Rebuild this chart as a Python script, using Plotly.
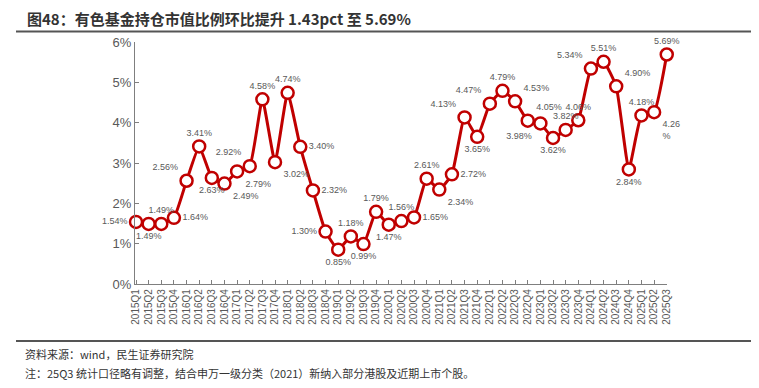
import plotly.graph_objects as go

quarters = ["2015Q1","2015Q2","2015Q3","2015Q4","2016Q1","2016Q2","2016Q3","2016Q4",
            "2017Q1","2017Q2","2017Q3","2017Q4","2018Q1","2018Q2","2018Q3","2018Q4",
            "2019Q1","2019Q2","2019Q3","2019Q4","2020Q1","2020Q2","2020Q3","2020Q4",
            "2021Q1","2021Q2","2021Q3","2021Q4","2022Q1","2022Q2","2022Q3","2022Q4",
            "2023Q1","2023Q2","2023Q3","2023Q4","2024Q1","2024Q2","2024Q3","2024Q4",
            "2025Q1","2025Q2","2025Q3"]
values = [1.54,1.49,1.49,1.64,2.56,3.41,2.63,2.49,
          2.79,2.92,4.58,3.02,4.74,3.40,2.32,1.30,
          0.85,1.18,0.99,1.79,1.47,1.56,1.65,2.61,
          2.34,2.72,4.13,3.65,4.47,4.79,4.53,4.05,
          3.98,3.62,3.82,4.06,5.34,5.51,4.90,2.84,
          4.18,4.26,5.69]
label_pos = ["middle left","bottom center","top center","middle right","top left","top center","bottom center","bottom right",
             "bottom right","top left","top center","bottom right","top center","middle right","middle right","middle left",
             "bottom center","top center","bottom center","top center","bottom center","top center","middle right","top center",
             "bottom right","middle right","top left","bottom center","top left","top center","top right","top right",
             "bottom left","bottom center","top center","top center","top left","top center","top right","bottom center",
             "top center","bottom right","top center"]
labels = [f"{v:.2f}%" for v in values]
labels[41] = "4.26<br>%"

title = "图48：有色基金持仓市值比例环比提升 1.43pct 至 5.69%"
source = "资料来源：wind，民生证券研究院"
note = "注：25Q3 统计口径略有调整，结合申万一级分类（2021）新纳入部分港股及近期上市个股。"

# page body has an 8px margin: shift everything by that
OX, OY = 8, 8
W, H = 759 - 2 * OX, 388 - 2 * OY
PL, PR, PT, PB = 135, 667, 42, 284  # plot area in reference pixels
L, R, T, B = PL - OX, W - (PR - OX), PT - OY, H - (PB - OY)
pw = W - L - R
ph = H - T - B

def px_x(p):
    return (p - OX - L) / pw

def px_y(p):
    return (H - B - (p - OY)) / ph

red = "#C00000"
gray = "#595959"

fig = go.Figure()
fig.add_trace(go.Scatter(
    x=list(range(len(quarters))), y=values,
    mode="lines+markers+text",
    line=dict(color=red, width=3, shape="spline", smoothing=0.4),
    marker=dict(symbol="circle", size=12, color="white", line=dict(color=red, width=2.5)),
    text=labels, textposition=label_pos,
    textfont=dict(family="Liberation Sans, Arial", size=9, color=gray),
    cliponaxis=False, hoverinfo="skip",
))

fig.update_layout(
    width=W, height=H,
    margin=dict(l=L, r=R, t=T, b=B, pad=0),
    paper_bgcolor="white", plot_bgcolor="white",
    showlegend=False,
    xaxis=dict(
        range=[-0.08, len(quarters) - 1 + 0.02],
        tickmode="array", tickvals=list(range(len(quarters))), ticktext=quarters,
        tickangle=-90, tickfont=dict(family="Liberation Sans, Arial", size=10, color=gray),
        showline=True, linecolor="#7f7f7f", linewidth=1.2,
        ticks="inside", ticklen=4, tickcolor="#7f7f7f", tickwidth=1,
        showgrid=False, zeroline=False, fixedrange=True,
    ),
    yaxis=dict(
        range=[0, 6], tickvals=[0,1,2,3,4,5,6], ticktext=["0%","1%","2%","3%","4%","5%","6%"],
        tickfont=dict(family="Liberation Sans, Arial", size=13, color=gray),
        showline=True, linecolor="#7f7f7f", linewidth=1.2,
        ticks="inside", ticklen=4, tickcolor="#7f7f7f", tickwidth=1,
        showgrid=False, zeroline=False, fixedrange=True,
    ),
    annotations=[
        dict(text="<b>" + title + "</b>", xref="paper", yref="paper",
             x=px_x(25), y=px_y(18), xanchor="left", yanchor="middle", showarrow=False,
             font=dict(family="Noto Sans CJK SC", size=15, color="#333333")),
        dict(text=source, xref="paper", yref="paper",
             x=px_x(23), y=px_y(354), xanchor="left", yanchor="middle", showarrow=False,
             font=dict(family="Noto Sans CJK SC", size=11, color="#333333")),
        dict(text=note, xref="paper", yref="paper",
             x=px_x(23), y=px_y(373), xanchor="left", yanchor="middle", showarrow=False,
             font=dict(family="Noto Sans CJK SC", size=11, color="#333333")),
    ],
    shapes=[
        dict(type="line", xref="paper", yref="paper", x0=px_x(16), x1=px_x(751),
             y0=px_y(31.5), y1=px_y(31.5), line=dict(color="#555555", width=2)),
        dict(type="line", xref="paper", yref="paper", x0=px_x(16), x1=px_x(751),
             y0=px_y(341), y1=px_y(341), line=dict(color="#555555", width=2)),
    ],
)

fig.write_html("out.html")
